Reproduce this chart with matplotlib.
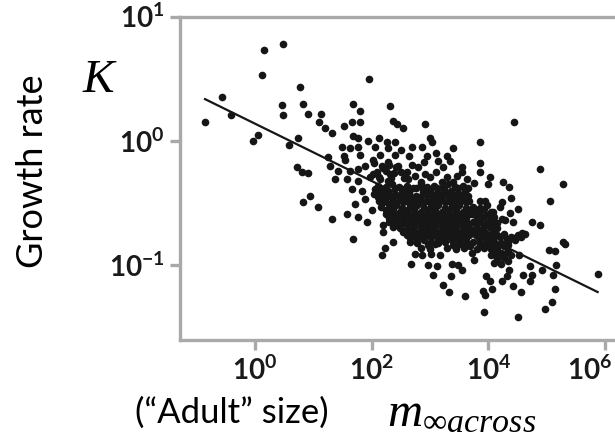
import numpy as np
import matplotlib.pyplot as plt
import matplotlib.transforms as mtransforms
from matplotlib.ticker import NullLocator

plt.rcParams['mathtext.fontset'] = 'custom'
plt.rcParams['mathtext.rm'] = 'Liberation Serif'
plt.rcParams['mathtext.it'] = 'Liberation Serif:italic'
plt.rcParams['mathtext.bf'] = 'Lato:bold'

# scattered species (log10 of adult size m, log10 of growth rate K)
log_m_scatter = [0.48, 0.15, 0.12, -0.56, -0.41, -0.86, 0.78, 0.82, 0.46, 0.48,
                 0.91, 1.14, 1.10, 1.96, 1.69, 1.81, 2.32, 1.52, 1.66, 1.80,
                 2.36, 2.43, 2.92, 4.45, -0.03, 0.05, 0.58, 0.74, 0.72, 0.81,
                 0.91, 0.94, 0.82, 1.08, 1.20, 1.32, 2.54, 1.69, 1.77, 1.94,
                 2.12, 2.26, 2.40, 3.00, 1.49, 1.63, 1.77, 2.06, 2.29, 2.86,
                 3.03, 1.52, 1.80, 2.14, 2.40, 2.95, 3.40, 3.29, 1.26, 1.29,
                 1.54, 2.03, 2.29, 1.89, 2.69, 2.80, 3.14, 3.23, 3.55, 1.43,
                 1.63, 1.77, 2.03, 2.32, 2.60, 2.92, 1.37, 1.57, 1.77, 2.12,
                 2.29, 2.63, 3.00, 3.29, 3.46, 3.63, 1.66, 1.83, 2.06, 1.72,
                 1.89, 2.00, 1.77, 1.57, 1.32, 1.92, 2.20, 2.37, 3.86, 3.86,
                 3.86, 4.03, 4.00, 3.76, 4.89, 5.28, 4.26, 4.35, 3.86, 3.95,
                 4.40, 4.23, 4.20, 5.06, 4.52, 4.09, 4.37, 4.23, 4.29, 4.43,
                 4.75, 4.89, 4.58, 1.69, 2.23, 2.18, 2.37, 2.20, 2.68, 2.74,
                 2.86, 2.97, 3.12, 3.06, 3.02, 3.17, 3.23, 3.32, 3.36, 3.38,
                 3.49, 3.55, 3.60, 5.28, 5.32, 5.05, 5.15, 4.53, 4.72, 4.92,
                 5.16, 5.12, 4.60, 4.75, 4.72, 4.35, 4.33, 3.97, 4.03, 4.23,
                 4.43, 4.56, 4.06, 3.91, 3.95, 5.15, 5.09, 4.97, 3.92, 4.51,
                 5.88]
log_k_scatter = [0.78, 0.73, 0.53, 0.35, 0.21, 0.15, 0.43, 0.30, 0.29, 0.21,
                 0.22, 0.22, 0.15, 0.50, 0.30, 0.24, 0.28, 0.12, 0.15, 0.15,
                 0.16, 0.14, 0.14, 0.15, 0.00, 0.05, -0.03, 0.02, -0.21, -0.25,
                 -0.26, -0.44, -0.49, -0.53, 0.10, 0.06, 0.10, 0.04, 0.02, 0.00,
                 0.02, -0.01, -0.01, 0.02, -0.05, -0.06, -0.05, -0.05, -0.06, -0.05,
                 -0.01, -0.12, -0.11, -0.11, -0.11, -0.12, -0.06, -0.12, -0.13, -0.20,
                 -0.15, -0.15, -0.17, -0.20, -0.19, -0.21, -0.16, -0.21, -0.21, -0.24,
                 -0.24, -0.23, -0.27, -0.27, -0.25, -0.27, -0.31, -0.31, -0.32, -0.29,
                 -0.32, -0.31, -0.29, -0.29, -0.28, -0.31, -0.39, -0.40, -0.39, -0.51,
                 -0.47, -0.56, -0.61, -0.59, -0.63, -0.65, -0.68, -0.69, -0.01, -0.18,
                 -0.25, -0.29, -0.35, -0.34, -0.23, -0.35, -0.33, -0.37, -0.48, -0.48,
                 -0.46, -0.49, -0.53, -0.48, -0.55, -0.57, -0.58, -0.63, -0.64, -0.65,
                 -0.65, -0.68, -0.74, -0.79, -0.86, -0.92, -0.81, -0.73, -0.99, -0.91,
                 -0.92, -1.00, -1.01, -1.08, -0.91, -0.92, -1.16, -1.22, -1.09, -0.99,
                 -1.00, -1.04, -1.25, -0.81, -0.83, -0.88, -0.89, -0.92, -1.01, -1.04,
                 -1.00, -1.08, -1.08, -1.08, -1.13, -1.04, -1.09, -1.09, -1.13, -1.13,
                 -1.17, -1.22, -1.19, -1.21, -1.24, -1.19, -1.30, -1.35, -1.38, -1.42,
                 -1.07]

# crowded core of the cloud
log_m_core = [2.11, 2.24, 2.35, 2.47, 2.60, 2.71, 2.84, 2.95, 3.07, 3.20, 3.31, 3.43, 3.56, 3.66,
              2.05, 2.17, 2.29, 2.41, 2.53, 2.65, 2.77, 2.89, 3.01, 3.13, 3.25, 3.37, 3.49, 3.61,
              2.12, 2.23, 2.36, 2.48, 2.59, 2.72, 2.83, 2.96, 3.08, 3.19, 3.32, 3.44, 3.55, 3.67,
              2.17, 2.30, 2.42, 2.53, 2.66, 2.78, 2.90, 3.02, 3.14, 3.26, 3.38, 3.50, 3.62,
              2.24, 2.36, 2.48, 2.60, 2.72, 2.84, 2.96, 3.08, 3.20, 3.32, 3.44, 3.56, 3.67,
              2.30, 2.42, 2.54, 2.66, 2.78, 2.90, 3.02, 3.14, 3.26, 3.38, 3.50, 3.62,
              2.48, 2.60, 2.72, 2.84, 2.96, 3.08, 3.20, 3.32, 3.44, 3.56, 3.67,
              2.60, 2.72, 2.84, 2.96, 3.08, 3.20, 3.32, 3.44, 3.56, 3.67,
              2.66, 2.78, 2.90, 3.02, 3.14, 3.26, 3.38, 3.50, 3.62,
              2.84, 3.00, 3.30, 3.45, 3.58, 3.68,
              3.74, 3.86, 3.98, 3.73, 3.85, 3.97, 4.10, 3.74, 3.86, 3.98, 4.10, 3.79, 3.91, 4.03, 4.15,
              3.79, 3.91, 4.03, 4.15, 4.27, 4.39, 4.51, 4.63, 3.74, 3.86, 3.98, 4.10, 4.22, 4.34, 4.46,
              3.80, 3.92, 4.04, 4.16, 4.28, 4.04, 4.16, 4.28, 4.40, 4.10, 4.22, 4.34, 3.72, 3.75,
              2.20, 2.45, 2.55, 2.75, 2.85, 3.10, 3.20, 3.40, 3.55, 2.65, 2.90, 3.10, 3.35, 2.50, 2.70]
log_k_core = [-0.36, -0.37, -0.35, -0.37, -0.36, -0.38, -0.35, -0.37, -0.36, -0.38, -0.35, -0.37, -0.36, -0.38,
              -0.43, -0.41, -0.42, -0.43, -0.41, -0.42, -0.44, -0.41, -0.43, -0.42, -0.41, -0.43, -0.42, -0.41,
              -0.48, -0.47, -0.49, -0.47, -0.48, -0.49, -0.47, -0.48, -0.49, -0.47, -0.48, -0.49, -0.47, -0.48,
              -0.53, -0.54, -0.52, -0.54, -0.53, -0.52, -0.54, -0.53, -0.52, -0.54, -0.53, -0.52, -0.54,
              -0.59, -0.58, -0.60, -0.59, -0.58, -0.60, -0.59, -0.58, -0.60, -0.59, -0.58, -0.60, -0.59,
              -0.65, -0.64, -0.66, -0.65, -0.64, -0.66, -0.65, -0.64, -0.66, -0.65, -0.64, -0.65,
              -0.70, -0.71, -0.69, -0.71, -0.70, -0.69, -0.71, -0.70, -0.69, -0.71, -0.70,
              -0.76, -0.75, -0.77, -0.76, -0.75, -0.77, -0.76, -0.75, -0.77, -0.76,
              -0.81, -0.82, -0.80, -0.81, -0.82, -0.81, -0.80, -0.82, -0.81,
              -0.86, -0.87, -0.86, -0.87, -0.86, -0.85,
              -0.53, -0.54, -0.52, -0.59, -0.58, -0.60, -0.61, -0.65, -0.64, -0.66, -0.65, -0.70, -0.71, -0.69, -0.70,
              -0.76, -0.75, -0.77, -0.76, -0.75, -0.77, -0.76, -0.75, -0.81, -0.82, -0.80, -0.81, -0.82, -0.81, -0.80,
              -0.87, -0.86, -0.87, -0.86, -0.85, -0.92, -0.93, -0.91, -0.92, -0.98, -0.99, -0.97, -0.90, -0.96,
              -0.22, -0.20, -0.30, -0.28, -0.33, -0.25, -0.33, -0.33, -0.25, -0.12, -0.17, -0.10, -0.16, -0.07, -0.05]

# points packed in between, where the cloud is solid black
log_m_fill = [2.17, 2.29, 2.41, 2.53, 2.65, 2.77, 2.89, 3.01, 3.13, 3.25, 3.37, 3.49, 3.61,
              2.11, 2.23, 2.35, 2.47, 2.59, 2.71, 2.83, 2.95, 3.07, 3.19, 3.31, 3.43, 3.55, 3.66,
              2.18, 2.30, 2.42, 2.54, 2.66, 2.78, 2.90, 3.02, 3.14, 3.26, 3.38, 3.50, 3.62,
              2.24, 2.36, 2.48, 2.60, 2.72, 2.84, 2.96, 3.08, 3.20, 3.32, 3.44, 3.56, 3.67,
              2.30, 2.42, 2.54, 2.66, 2.78, 2.90, 3.02, 3.14, 3.26, 3.38, 3.50, 3.62,
              2.36, 2.48, 2.60, 2.72, 2.84, 2.96, 3.08, 3.20, 3.32, 3.44, 3.56, 3.67,
              2.54, 2.66, 2.78, 2.90, 3.02, 3.14, 3.26, 3.38, 3.50, 3.62,
              2.66, 2.78, 2.90, 3.02, 3.14, 3.26, 3.38, 3.50, 3.62,
              2.96, 3.08, 3.40, 3.52, 3.64,
              3.80, 3.92, 4.04, 3.80, 3.92, 4.04, 3.80, 3.92, 4.04, 4.16, 3.73, 3.85, 3.97, 4.09,
              3.85, 3.97, 4.09, 4.21, 4.33, 4.45, 4.57, 3.86, 3.98, 4.10, 4.22, 4.34,
              4.10, 4.22, 4.34, 4.16, 4.28,
              2.05, 2.18, 2.30, 2.42, 2.10, 2.25, 2.38, 2.50, 1.98, 2.15, 2.33]
log_k_fill = [-0.39, -0.40, -0.38, -0.39, -0.40, -0.38, -0.39, -0.40, -0.38, -0.39, -0.40, -0.38, -0.39,
              -0.45, -0.44, -0.46, -0.45, -0.44, -0.46, -0.45, -0.44, -0.46, -0.45, -0.44, -0.46, -0.45, -0.44,
              -0.50, -0.51, -0.50, -0.49, -0.51, -0.50, -0.49, -0.51, -0.50, -0.49, -0.51, -0.50, -0.49,
              -0.56, -0.55, -0.57, -0.56, -0.55, -0.57, -0.56, -0.55, -0.57, -0.56, -0.55, -0.57, -0.56,
              -0.62, -0.61, -0.63, -0.62, -0.61, -0.63, -0.62, -0.61, -0.63, -0.62, -0.61, -0.62,
              -0.67, -0.68, -0.67, -0.66, -0.68, -0.67, -0.66, -0.68, -0.67, -0.66, -0.68, -0.67,
              -0.73, -0.72, -0.74, -0.73, -0.72, -0.74, -0.73, -0.72, -0.74, -0.73,
              -0.78, -0.79, -0.78, -0.77, -0.79, -0.78, -0.77, -0.79, -0.78,
              -0.84, -0.83, -0.84, -0.83, -0.84,
              -0.56, -0.55, -0.57, -0.62, -0.61, -0.63, -0.67, -0.68, -0.67, -0.66, -0.73, -0.72, -0.74, -0.73,
              -0.78, -0.79, -0.78, -0.77, -0.79, -0.78, -0.77, -0.84, -0.83, -0.84, -0.83, -0.84,
              -0.89, -0.90, -0.89, -0.95, -0.94,
              -0.18, -0.20, -0.19, -0.21, -0.25, -0.24, -0.26, -0.25, -0.29, -0.31, -0.30]

fit_m = [0.139, 7.55e5]
fit_k = [2.17, 0.0607]

x_ticks = [1, 1e2, 1e4, 1e6]
x_labels = [r'$\mathbf{10^{0}}$', r'$\mathbf{10^{2}}$', r'$\mathbf{10^{4}}$', r'$\mathbf{10^{6}}$']
y_ticks = [0.1, 1, 10]
y_labels = [r'$\mathbf{10^{-1}}$', r'$\mathbf{10^{0}}$', r'$\mathbf{10^{1}}$']

fig = plt.figure(figsize=(6.15, 4.38), dpi=100)
ax = fig.add_axes([180 / 615, 98 / 438, 445 / 615, 323.3 / 438])

m = 10 ** np.concatenate([log_m_scatter, log_m_core, log_m_fill])
k = 10 ** np.concatenate([log_k_scatter, log_k_core, log_k_fill])
ax.plot(m, k, 'o', color='#161616', markersize=5.5, markeredgewidth=0)
ax.plot(fit_m, fit_k, color='#161616', lw=1.6, zorder=3)

ax.set_xscale('log')
ax.set_yscale('log')
ax.set_xlim(10 ** -1.286, 10 ** 6.347)
ax.set_ylim(10 ** -1.603, 10)
ax.xaxis.set_minor_locator(NullLocator())
ax.yaxis.set_minor_locator(NullLocator())
ax.set_xticks(x_ticks)
ax.set_xticklabels(x_labels)
ax.set_yticks(y_ticks)
ax.set_yticklabels(y_labels)

grey = '#a9a9a9'
for s in ['left', 'top', 'bottom']:
    ax.spines[s].set_color(grey)
    ax.spines[s].set_linewidth(2.4)
ax.spines['right'].set_visible(False)
ax.tick_params(axis='both', color=grey, width=2.4, length=7, labelsize=20, labelcolor='#1a1a1a')
ax.tick_params(axis='x', pad=5)
ax.tick_params(axis='y', pad=4)

# the last x label sits a little left of its tick so it stays in the picture
last = ax.get_xticklabels()[-1]
last.set_transform(last.get_transform() + mtransforms.ScaledTranslation(-0.15, 0, fig.dpi_scale_trans))

fig.text(33 / 615, 1 - 171 / 438, 'Growth rate', rotation=90, ha='center', va='center',
         fontsize=26, family='Lato')
fig.text(98 / 615, 1 - 81 / 438, 'K', ha='center', va='center', fontsize=34,
         family='Liberation Serif', style='italic')
fig.text(232 / 615, 1 - 413 / 438, '(\u201cAdult\u201d size)', ha='center', va='center',
         fontsize=25, family='Lato')
fig.text(462 / 615, 1 - 426 / 438, r'$m_{\infty across}$', ha='center', va='baseline', fontsize=35)

plt.savefig('out.png', dpi=100)
